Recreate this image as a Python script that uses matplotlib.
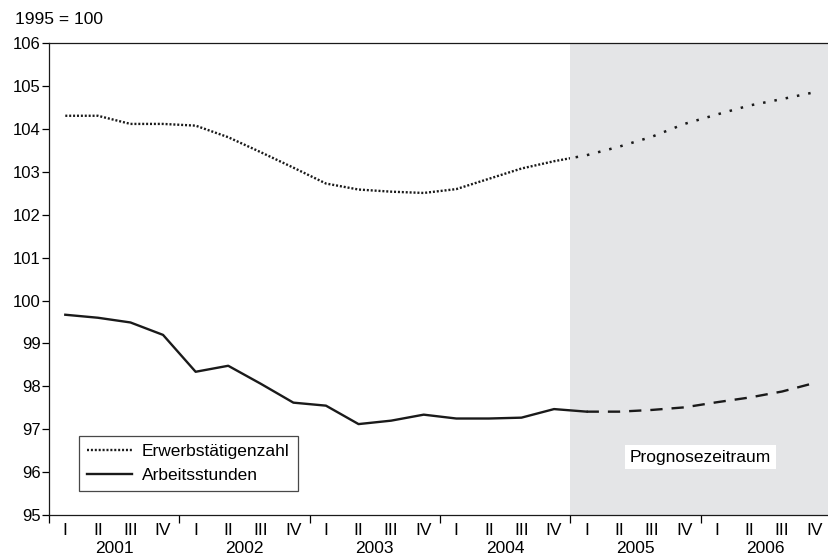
import matplotlib.pyplot as plt
from matplotlib.patches import Rectangle

# quarterly index values, 1995 = 100
years = ["2001", "2002", "2003", "2004", "2005", "2006"]
quarters = ["I", "II", "III", "IV"]

erwerbstaetige = [104.31, 104.31, 104.12, 104.12, 104.08, 103.81, 103.46, 103.10,
                  102.73, 102.59, 102.54, 102.51, 102.60, 102.84, 103.08, 103.25,
                  103.39, 103.59, 103.82, 104.12, 104.34, 104.55, 104.70, 104.86]
arbeitsstunden = [99.67, 99.60, 99.49, 99.20, 98.34, 98.48, 98.06, 97.62,
                  97.55, 97.12, 97.20, 97.34, 97.25, 97.25, 97.27, 97.47,
                  97.41, 97.41, 97.45, 97.51, 97.63, 97.74, 97.88, 98.08]

first_forecast = 16  # 2005 I

plt.rcParams["font.family"] = ["Liberation Sans", "DejaVu Sans"]
FS = 12.5

fig = plt.figure(figsize=(8.29, 5.58), dpi=100)
ax = fig.add_axes([49 / 829, 1 - 515 / 558, 782 / 829, (515 - 43.3) / 558])

n = len(erwerbstaetige)
x = list(range(n))
boundary = first_forecast - 0.5

ax.axvspan(boundary, n - 0.5, color="#e4e5e7", lw=0, zorder=0)

# Erwerbstaetigenzahl: dense dots in the past, sparse dots in the forecast
hist_clip = Rectangle((-1, 90), boundary + 1, 20, transform=ax.transData)
fc_clip = Rectangle((boundary, 90), 20, 20, transform=ax.transData)
l1, = ax.plot(x, erwerbstaetige, color="#1a1a1a", lw=1.7, dashes=(0.85, 0.8),
              label="Erwerbstätigenzahl")
l1.set_clip_path(hist_clip)
l1b, = ax.plot(x, erwerbstaetige, color="#1a1a1a", lw=1.8, dashes=(1, 3.6))
l1b.set_clip_path(fc_clip)

# Arbeitsstunden: solid, then dashed forecast
ax.plot(x[:first_forecast + 1], arbeitsstunden[:first_forecast + 1],
        color="#1a1a1a", lw=1.7, label="Arbeitsstunden")
ax.plot(x[first_forecast:], arbeitsstunden[first_forecast:],
        color="#1a1a1a", lw=1.7, dashes=(5.2, 3.8))

ax.set_xlim(-0.5, n - 0.5)
ax.set_ylim(95, 106)
ax.set_yticks(range(95, 107))
ax.tick_params(axis="y", direction="out", length=5, width=0.9, labelsize=12, pad=1)

ax.set_xticks(x)
ax.set_xticklabels(quarters * len(years))
ax.tick_params(axis="x", which="major", length=0, labelsize=FS, pad=6)
ax.set_xticks([i * 4 - 0.5 for i in range(len(years) + 1)], minor=True)
ax.tick_params(axis="x", which="minor", direction="out", length=6, width=0.9)

for i, yr in enumerate(years):
    ax.text(i * 4 + 1.5, -0.07, yr, transform=ax.get_xaxis_transform(),
            ha="center", va="center", fontsize=FS)

ax.spines["right"].set_visible(False)
for s in ["left", "top", "bottom"]:
    ax.spines[s].set_linewidth(0.9)
    ax.spines[s].set_color("#1a1a1a")

ax.text(19.5, 96.35, "Prognosezeitraum", ha="center", va="center", fontsize=FS,
        bbox=dict(facecolor="white", edgecolor="none", pad=3.5))

leg = ax.legend(loc="lower left", bbox_to_anchor=(0.038, 0.051), borderaxespad=0,
                fontsize=FS, frameon=True, fancybox=False, handlelength=2.6,
                handletextpad=0.6, borderpad=0.45, labelspacing=0.5)
leg.get_frame().set_edgecolor("#1a1a1a")
leg.get_frame().set_linewidth(0.9)

fig.text(15 / 829, 1 - 19 / 558, "1995 = 100", ha="left", va="center", fontsize=FS)

fig.savefig("out.png", dpi=100)
